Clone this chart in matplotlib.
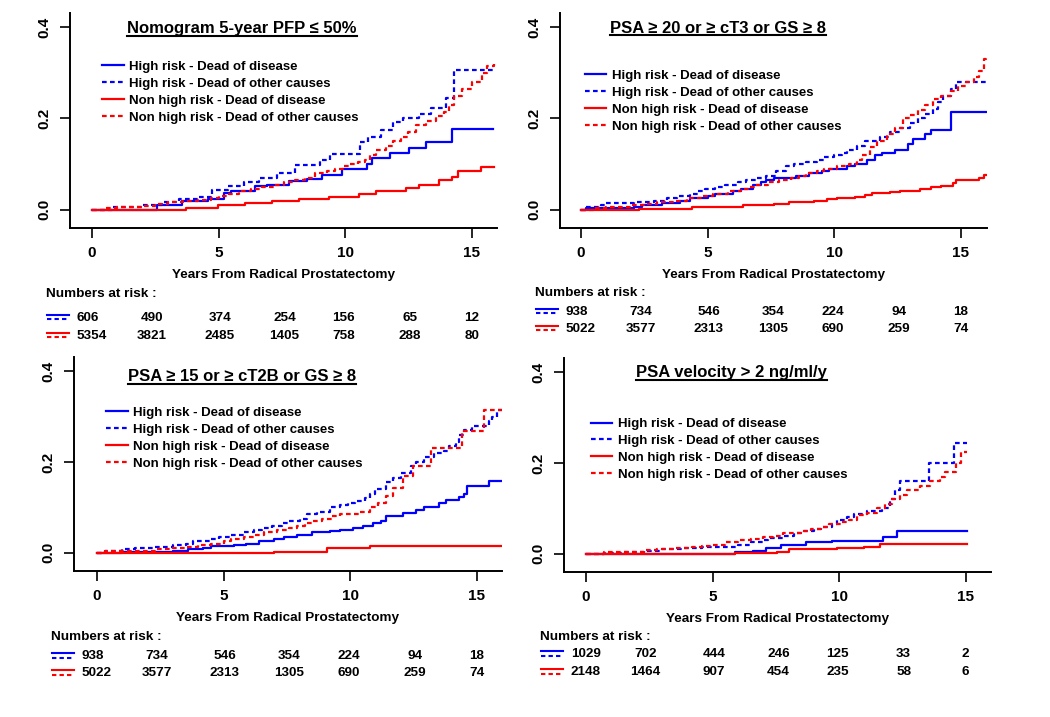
import matplotlib
matplotlib.use("Agg")
import matplotlib.pyplot as plt
from matplotlib.lines import Line2D
from matplotlib.transforms import offset_copy

plt.rcParams.update({
    "font.family": ["Liberation Sans", "DejaVu Sans"],
    "font.weight": "bold",
    "axes.spines.top": False,
    "axes.spines.right": False,
})

# ── Data ──────────────────────────────────────────────────────────────────────

TITLES = [
    "Nomogram 5-year PFP \u2264 50%",
    "PSA \u2265 20 or \u2265 cT3 or GS \u2265 8",
    "PSA \u2265 15 or \u2265 cT2B or GS \u2265 8",
    "PSA velocity > 2 ng/ml/y",
]
LEGEND_LABELS = [
    "High risk - Dead of disease",
    "High risk - Dead of other causes",
    "Non high risk - Dead of disease",
    "Non high risk - Dead of other causes",
]
XLABEL = "Years From Radical Prostatectomy"
RISK_TITLE = "Numbers at risk :"

# panel 1: nomogram
P1_HR_DOD_T = [0, 2.56, 3.55, 4.6, 5.2, 5.5, 6.45, 6.91, 7.77, 8.5, 9.09, 9.88, 10.87, 11.05, 11.79, 12.52, 13.18, 14.23, 15.85]
P1_HR_DOD = [0, 0.011, 0.020, 0.024, 0.036, 0.040, 0.051, 0.055, 0.063, 0.067, 0.076, 0.089, 0.10, 0.114, 0.124, 0.135, 0.148, 0.177, 0.177]
P1_HR_OTH_T = [0, 0.78, 2.0, 2.76, 3.42, 4.21, 4.73, 5.39, 6.0, 6.6, 7.3, 8.0, 9.0, 9.4, 10.6, 10.9, 11.4, 11.9, 12.3, 12.9, 13.4, 14.0, 14.3, 15.9]
P1_HR_OTH = [0, 0.005, 0.011, 0.018, 0.024, 0.029, 0.044, 0.051, 0.06, 0.07, 0.08, 0.099, 0.11, 0.122, 0.148, 0.159, 0.174, 0.193, 0.2, 0.21, 0.222, 0.245, 0.306, 0.306]
P1_NHR_DOD_T = [0, 3.72, 4.99, 6.05, 7.11, 8.17, 9.35, 10.54, 11.2, 12.39, 12.91, 13.71, 14.23, 14.45, 15.36, 15.9]
P1_NHR_DOD = [0, 0.003, 0.011, 0.015, 0.02, 0.024, 0.027, 0.034, 0.041, 0.048, 0.055, 0.065, 0.072, 0.085, 0.094, 0.094]
P1_NHR_OTH_T = [0, 0.5, 1.0, 2.0, 2.5, 3.0, 3.6, 4.2, 4.7, 5.0, 5.4, 5.8, 6.3, 6.7, 7.2, 7.6, 8.0, 8.4, 8.8, 9.3,
                9.6, 9.9, 10.2, 10.5, 10.8, 11.0, 11.2, 11.6, 11.9, 12.2, 12.5, 12.8, 13.2, 13.6, 13.9, 14.1, 14.3,
                14.6, 15.0, 15.4, 15.6, 15.9]
P1_NHR_OTH = [0, 0.003, 0.005, 0.008, 0.012, 0.016, 0.02, 0.022, 0.025, 0.03, 0.035, 0.04, 0.045, 0.05, 0.055, 0.06,
              0.065, 0.07, 0.08, 0.085, 0.09, 0.095, 0.1, 0.105, 0.11, 0.12, 0.13, 0.14, 0.15, 0.16, 0.17, 0.185,
              0.195, 0.205, 0.215, 0.23, 0.25, 0.265, 0.28, 0.3, 0.315, 0.32]
P1_HR_RISK = [606, 490, 374, 254, 156, 65, 12]
P1_NHR_RISK = [5354, 3821, 2485, 1405, 758, 288, 80]

# panel 2: PSA >= 20 or >= cT3 or GS >= 8
P2_HR_DOD_T = [0, 0.2, 2.1, 2.4, 3.2, 3.9, 4.3, 5.0, 5.3, 6.0, 6.3, 6.8, 7.1, 7.3, 7.6, 8.5, 9.0, 9.5, 9.8, 10.5,
               10.8, 11.3, 11.6, 11.9, 12.4, 12.9, 13.1, 13.6, 13.8, 14.6, 16.0]
P2_HR_DOD = [0, 0.003, 0.005, 0.01, 0.015, 0.02, 0.025, 0.03, 0.035, 0.04, 0.045, 0.055, 0.06, 0.065, 0.07, 0.075,
             0.08, 0.085, 0.09, 0.095, 0.1, 0.11, 0.12, 0.125, 0.13, 0.145, 0.155, 0.165, 0.175, 0.215, 0.215]
P2_HR_OTH_T = [0, 0.2, 0.8, 1.0, 2.1, 2.9, 3.4, 3.8, 4.3, 4.6, 4.9, 5.3, 5.7, 6.2, 6.5, 6.9, 7.3, 7.7, 8.1, 8.4,
               8.9, 9.3, 9.6, 10.0, 10.3, 10.5, 10.9, 11.2, 11.8, 12.2, 12.6, 13.0, 13.3, 13.6, 13.9, 14.1, 14.3,
               14.6, 14.8, 16.0]
P2_HR_OTH = [0, 0.005, 0.01, 0.015, 0.018, 0.02, 0.025, 0.03, 0.035, 0.04, 0.045, 0.05, 0.055, 0.06, 0.065, 0.07,
             0.075, 0.085, 0.095, 0.1, 0.105, 0.11, 0.115, 0.12, 0.125, 0.13, 0.14, 0.15, 0.16, 0.17, 0.18, 0.19,
             0.2, 0.21, 0.22, 0.235, 0.25, 0.265, 0.28, 0.28]
P2_NHR_DOD_T = [0, 2.3, 4.4, 5.3, 6.4, 7.6, 8.2, 9.2, 9.7, 10.1, 10.8, 11.2, 11.5, 12.2, 12.6, 13.4, 13.8, 14.2,
                14.7, 14.8, 15.7, 15.9, 16.0]
P2_NHR_DOD = [0, 0.002, 0.005, 0.007, 0.01, 0.013, 0.016, 0.02, 0.023, 0.025, 0.028, 0.032, 0.037, 0.039, 0.042,
              0.045, 0.049, 0.053, 0.058, 0.066, 0.07, 0.077, 0.077]
P2_NHR_OTH_T = [0, 0.5, 1.0, 2.0, 2.5, 3.0, 3.7, 4.2, 4.8, 5.2, 5.8, 6.3, 6.6, 6.9, 7.4, 7.8, 8.3, 8.6, 8.9, 9.3,
                9.6, 10.1, 10.6, 10.9, 11.1, 11.4, 11.7, 12.1, 12.4, 12.7, 13.0, 13.3, 13.6, 13.9, 14.2, 14.6,
                14.9, 15.2, 15.5, 15.7, 15.9, 16.0]
P2_NHR_OTH = [0, 0.003, 0.007, 0.01, 0.013, 0.016, 0.02, 0.025, 0.03, 0.035, 0.04, 0.045, 0.05, 0.055, 0.06, 0.065,
              0.07, 0.075, 0.08, 0.085, 0.09, 0.095, 0.1, 0.11, 0.12, 0.138, 0.15, 0.167, 0.18, 0.2, 0.208, 0.218,
              0.23, 0.243, 0.25, 0.26, 0.27, 0.28, 0.29, 0.305, 0.33, 0.335]
P2_HR_RISK = [938, 734, 546, 354, 224, 94, 18]
P2_NHR_RISK = [5022, 3577, 2313, 1305, 690, 259, 74]

# panel 3: PSA >= 15 or >= cT2B or GS >= 8
P3_HR_DOD_T = [0, 1.0, 3.0, 3.6, 4.2, 4.5, 5.4, 5.9, 6.4, 7.0, 7.4, 7.9, 8.5, 9.2, 9.6, 10.1, 10.5, 10.9, 11.2,
               11.4, 12.1, 12.6, 12.9, 13.5, 13.8, 14.3, 14.5, 14.6, 15.5, 16.0]
P3_HR_DOD = [0, 0.002, 0.005, 0.008, 0.01, 0.015, 0.018, 0.02, 0.025, 0.03, 0.035, 0.04, 0.045, 0.048, 0.05, 0.055,
             0.06, 0.065, 0.07, 0.08, 0.087, 0.095, 0.1, 0.11, 0.117, 0.122, 0.13, 0.147, 0.158, 0.158]
P3_HR_OTH_T = [0, 0.3, 1.0, 1.5, 2.3, 3.0, 3.5, 3.8, 4.5, 4.8, 5.3, 5.8, 6.2, 6.5, 6.9, 7.3, 7.6, 8.0, 8.3, 8.7,
               9.2, 9.6, 9.9, 10.2, 10.6, 10.8, 11.0, 11.4, 11.7, 12.0, 12.4, 12.6, 12.9, 13.3, 13.7, 13.9, 14.2,
               14.3, 14.5, 14.8, 15.5, 15.6, 15.8, 16.0]
P3_HR_OTH = [0, 0.005, 0.008, 0.01, 0.013, 0.017, 0.02, 0.025, 0.03, 0.035, 0.04, 0.045, 0.05, 0.055, 0.06, 0.065,
             0.07, 0.075, 0.085, 0.09, 0.1, 0.105, 0.11, 0.115, 0.12, 0.13, 0.14, 0.155, 0.165, 0.175, 0.19, 0.2,
             0.21, 0.22, 0.225, 0.235, 0.245, 0.26, 0.27, 0.28, 0.29, 0.3, 0.315, 0.32]
P3_NHR_DOD_T = [0, 7.0, 9.1, 10.8, 16.0]
P3_NHR_DOD = [0, 0.002, 0.01, 0.014, 0.014]
P3_NHR_OTH_T = [0, 0.3, 1.0, 2.3, 3.0, 3.5, 4.0, 4.5, 5.0, 5.3, 5.8, 6.2, 6.6, 7.1, 7.6, 7.9, 8.2, 8.5, 8.9, 9.3,
                9.6, 10.4, 10.8, 11.1, 11.4, 11.7, 12.1, 12.5, 13.2, 14.4, 15.3, 16.0]
P3_NHR_OTH = [0, 0.003, 0.005, 0.008, 0.01, 0.013, 0.017, 0.02, 0.025, 0.03, 0.035, 0.04, 0.045, 0.05, 0.055, 0.06,
              0.065, 0.07, 0.075, 0.08, 0.085, 0.09, 0.1, 0.11, 0.124, 0.142, 0.168, 0.19, 0.23, 0.268, 0.314, 0.314]
P3_HR_RISK = [938, 734, 546, 354, 224, 94, 18]
P3_NHR_RISK = [5022, 3577, 2313, 1305, 690, 259, 74]

# panel 4: PSA velocity > 2 ng/ml/y
P4_HR_DOD_T = [0, 5.9, 6.6, 7.1, 7.7, 8.7, 9.7, 11.75, 12.3, 15.07]
P4_HR_DOD = [0, 0.003, 0.007, 0.012, 0.02, 0.025, 0.029, 0.037, 0.051, 0.051]
P4_HR_OTH_T = [0, 0.7, 1.5, 2.3, 3.0, 3.8, 4.6, 5.2, 6.0, 6.5, 7.0, 7.2, 7.8, 8.2, 8.6, 9.0, 9.3, 9.7, 9.9, 10.3,
               10.6, 11.1, 11.7, 12.0, 12.2, 12.4, 13.55, 14.55, 15.07]
P4_HR_OTH = [0, 0.002, 0.004, 0.007, 0.01, 0.012, 0.014, 0.016, 0.02, 0.025, 0.03, 0.035, 0.04, 0.045, 0.05, 0.055,
             0.06, 0.065, 0.075, 0.08, 0.088, 0.095, 0.1, 0.12, 0.14, 0.16, 0.2, 0.243, 0.243]
P4_NHR_DOD_T = [0, 5.9, 7.55, 8.0, 9.9, 11.0, 11.6, 15.07]
P4_NHR_DOD = [0, 0.0015, 0.005, 0.01, 0.0125, 0.016, 0.021, 0.021]
P4_NHR_OTH_T = [0, 0.7, 1.5, 2.3, 2.8, 3.5, 4.2, 4.6, 5.0, 5.5, 6.0, 6.5, 7.0, 7.4, 7.8, 8.5, 8.9, 9.3, 9.6, 10.1,
                10.4, 10.7, 11.1, 11.5, 11.8, 12.1, 12.4, 12.7, 13.2, 13.6, 14.0, 14.2, 14.6, 14.8, 15.07]
P4_NHR_OTH = [0, 0.003, 0.005, 0.008, 0.01, 0.013, 0.015, 0.018, 0.02, 0.025, 0.03, 0.033, 0.036, 0.04, 0.045, 0.05,
              0.055, 0.06, 0.065, 0.07, 0.075, 0.085, 0.09, 0.1, 0.11, 0.12, 0.13, 0.14, 0.15, 0.16, 0.17, 0.18,
              0.2, 0.225, 0.225]
P4_HR_RISK = [1029, 702, 444, 246, 125, 33, 2]
P4_NHR_RISK = [2148, 1464, 907, 454, 235, 58, 6]

PANELS = [
    [(P1_HR_DOD_T, P1_HR_DOD), (P1_HR_OTH_T, P1_HR_OTH), (P1_NHR_DOD_T, P1_NHR_DOD), (P1_NHR_OTH_T, P1_NHR_OTH)],
    [(P2_HR_DOD_T, P2_HR_DOD), (P2_HR_OTH_T, P2_HR_OTH), (P2_NHR_DOD_T, P2_NHR_DOD), (P2_NHR_OTH_T, P2_NHR_OTH)],
    [(P3_HR_DOD_T, P3_HR_DOD), (P3_HR_OTH_T, P3_HR_OTH), (P3_NHR_DOD_T, P3_NHR_DOD), (P3_NHR_OTH_T, P3_NHR_OTH)],
    [(P4_HR_DOD_T, P4_HR_DOD), (P4_HR_OTH_T, P4_HR_OTH), (P4_NHR_DOD_T, P4_NHR_DOD), (P4_NHR_OTH_T, P4_NHR_OTH)],
]
RISKS = [(P1_HR_RISK, P1_NHR_RISK), (P2_HR_RISK, P2_NHR_RISK), (P3_HR_RISK, P3_NHR_RISK), (P4_HR_RISK, P4_NHR_RISK)]

# ── Style / layout ────────────────────────────────────────────────────────────

BLUE = "#0000FF"
RED = "#FF0000"
STYLES = [(BLUE, False), (BLUE, True), (RED, False), (RED, True)]
DASH = (2.1, 1.5)
LW = 1.6

W, H = 1050, 717
# left, bottom-spine y, width, height (pixels)
AX_PX = [(70, 228, 427, 215), (560, 228, 427, 215), (74, 571, 428, 214), (564, 572, 427, 214)]
XLIMS = [(-0.87, 16.0), (-0.83, 16.03), (-0.91, 16.0), (-0.87, 16.0)]
YLIM = (-0.04, 0.431)
TITLE_POS = [(0.403, 0.926), (0.370, 0.930), (0.393, 0.907), (0.393, 0.930)]
LEGEND_POS = [(0.075, 0.778), (0.0585, 0.736), (0.075, 0.767), (0.063, 0.720)]
# pixel distance below the x axis line: risk title, row 1, row 2
RISK_OFFSETS = [(66, 90, 108), (65, 84, 101), (66, 85, 102), (65, 82, 100)]
RISK_X = [-0.6, 2.35, 5.05, 7.6, 9.95, 12.55, 15.0]
KEY_X = [-1.78, -0.92]

fig = plt.figure(figsize=(W / 100, H / 100), dpi=100)
fig.patch.set_facecolor("white")

title_texts = []
for i, series in enumerate(PANELS):
    l, b, w, h = AX_PX[i]
    ax = fig.add_axes([l / W, 1 - b / H, w / W, h / H])

    handles = []
    for (t, v), (color, dashed) in zip(series, STYLES):
        line, = ax.step(t, v, where="post", color=color, lw=LW)
        if dashed:
            line.set_dashes(DASH)
        handles.append(line)

    ax.set_xticks([0, 5, 10, 15])
    ax.set_yticks([0, 0.2, 0.4])
    ax.set_yticklabels(["0.0", "0.2", "0.4"])
    ax.tick_params(direction="out", length=7.2, width=1.2, labelsize=11, pad=6)
    for lab in ax.get_yticklabels():
        lab.set_rotation(90)
        lab.set_va("center")
    for side in ("left", "bottom"):
        ax.spines[side].set_linewidth(1.4)

    ax.text(0.5, -47 / h, XLABEL, transform=ax.transAxes, ha="center", va="center", fontsize=9.7)
    title_texts.append(ax.text(*TITLE_POS[i], TITLES[i], transform=ax.transAxes,
                               ha="center", va="center", fontsize=12))

    ax.legend(handles, LEGEND_LABELS, loc="upper left", bbox_to_anchor=LEGEND_POS[i],
              frameon=False, fontsize=9.5, handlelength=1.63, handletextpad=0.4,
              labelspacing=0.35, borderpad=0, borderaxespad=0)

    # numbers at risk table under the axis
    off = RISK_OFFSETS[i]
    base = ax.get_xaxis_transform()
    ax.text(-1.82, 0, RISK_TITLE, transform=offset_copy(base, fig=fig, y=-off[0], units="dots"),
            ha="left", va="center", fontsize=9.7, clip_on=False)
    for row, (nums, color) in enumerate(zip(RISKS[i], (BLUE, RED))):
        dy = off[1 + row]
        trans = offset_copy(base, fig=fig, y=-dy, units="dots")
        for j, (x, n) in enumerate(zip(RISK_X, nums)):
            ax.text(x, 0, str(n), transform=trans, ha="left" if j == 0 else "center",
                    va="center", fontsize=9.7, clip_on=False)
        for shift, dashed in ((3, False), (-1.5, True)):
            key = Line2D(KEY_X, [0, 0], color=color, lw=1.5, clip_on=False,
                         transform=offset_copy(base, fig=fig, y=-dy + shift, units="dots"))
            if dashed:
                key.set_dashes(DASH)
            ax.add_artist(key)

    ax.set_xlim(*XLIMS[i])
    ax.set_ylim(*YLIM)

# underline the panel titles
fig.canvas.draw()
renderer = fig.canvas.get_renderer()
inv = fig.transFigure.inverted()
for txt in title_texts:
    bb = txt.get_window_extent(renderer)
    (x0, y0), (x1, _) = inv.transform([(bb.x0, bb.y0 + 0.5), (bb.x1, bb.y0 + 0.5)])
    fig.add_artist(Line2D([x0, x1], [y0, y0], color="black", lw=1.5, transform=fig.transFigure))

fig.savefig("out.png", dpi=100, facecolor="white")
